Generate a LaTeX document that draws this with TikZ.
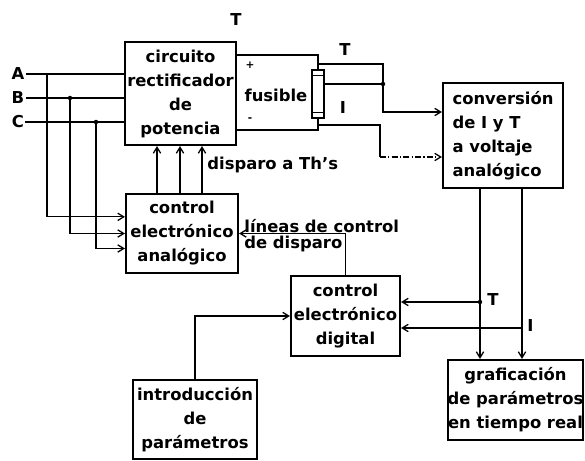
\documentclass[tikz,border=0pt]{standalone}
\usepackage{fontspec}
\setmainfont{DejaVu Sans}
\usetikzlibrary{arrows.meta,positioning,calc}

\begin{document}
\begin{tikzpicture}[
    x=0.3mm,y=-0.3mm,
    font=\fontsize{14}{20.5}\selectfont\bfseries,
    block/.style={rectangle,draw,line width=1.8pt,align=center,inner sep=1pt},
    wire/.style={line width=1.1pt},
    arrow/.style={wire,-{Straight Barb[length=1.8mm,width=2.2mm]}},
    dashwire/.style={arrow,dash pattern=on 5pt off 2pt on 1pt off 2pt},
    dot/.style={circle,fill,inner sep=0pt,minimum size=3.8pt},
    lbl/.style={inner sep=1pt}
]
\useasboundingbox (0,0) rectangle (585,461);

\node[block,minimum width=33.3mm,minimum height=30.9mm] (rect) at (180.5,93.5) {circuito\\rectificador\\de\\potencia};
\node[block,minimum width=33.6mm,minimum height=23.7mm] (analog) at (182,233.5) {control\\electrónico\\analógico};
\node[block,minimum width=36mm,minimum height=31.5mm,align=left] (conv) at (503,135.5) {conversión\\de I y T\\a voltaje\\analógico};
\node[block,minimum width=32.7mm,minimum height=24mm] (digital) at (345.5,316) {control\\electrónico\\digital};
\node[block,minimum width=37.2mm,minimum height=23.7mm] (intro) at (195,419.5) {introducción\\de\\parámetros};
\node[block,minimum width=40.5mm,minimum height=24mm,inner sep=0pt] (graf) at (515.5,400) {graficación\\de parámetros\\en tiempo real};
\node[draw,line width=1.2pt,minimum width=3.6mm,minimum height=14.4mm,inner sep=0pt] (fuse) at (318,94) {};
\draw[wire] ([yshift=-1.8mm]fuse.north west) -- ([yshift=-1.8mm]fuse.north east);
\draw[wire] ([yshift=1.8mm]fuse.south west) -- ([yshift=1.8mm]fuse.south east);

\node[lbl] (A) at (18,74) {A};
\node[lbl] (B) at (18,98) {B};
\node[lbl] (C) at (18,122) {C};
\draw[wire] (A.east) -- (A.east -| rect.west);
\draw[wire] (B.east) -- (B.east -| rect.west);
\draw[wire] (C.east) -- (C.east -| rect.west);
\coordinate (jA) at (47,74);
\coordinate (jB) at (70,98);
\coordinate (jC) at (96,122);
\draw[arrow] (jA) |- ([yshift=5mm]analog.west);
\draw[arrow] (jB) |- (analog.west);
\draw[arrow] (jC) |- ([yshift=-4.5mm]analog.west);
\node[dot] (dB) at (jB) {};
\node[dot] (dC) at (jC) {};

\foreach \xx in {157,180,202}
  \draw[arrow] (analog.north -| \xx,0) -- (rect.south -| \xx,0);
\node[lbl,anchor=west] (disp) at (206,165) {disparo a Th's};
\node[lbl] (ttop) at (236,20) {T};

\draw[wire] (rect.east |- 0,55) -| (fuse.north);
\draw[wire] (rect.east |- 0,130) -| (fuse.south);
\node[lbl,font=\fontsize{9}{10}\selectfont\bfseries] (plus) at (250,65) {+};
\node[lbl,font=\fontsize{9}{10}\selectfont\bfseries] (minus) at (250,120) {-};
\node[lbl] (fus) at (276,95) {fusible};

\coordinate (tapT) at (318,64);
\coordinate (bendT) at (383,112);
\draw[arrow] (tapT) -| (bendT) -- (bendT -| conv.west);
\draw[wire] (fuse.east |- 0,84) -- (bendT |- 0,84);
\node[dot] (dT) at (bendT |- 0,84) {};
\coordinate (tapI) at (318,125);
\coordinate (bendI) at (380,157);
\draw[wire] (tapI) -| (bendI);
\draw[dashwire] (bendI) -- (bendI -| conv.west);
\node[lbl] (lT) at (345,50) {T};
\node[lbl] (lI) at (343,108) {I};

\draw[arrow] (conv.south -| 480,0) -- (graf.north -| 480,0);
\draw[arrow] (conv.south -| 522,0) -- (graf.north -| 522,0);
\coordinate (sT) at (480,302);
\coordinate (sI) at (522,328);
\draw[arrow] (sT) -- (sT -| digital.east);
\draw[arrow] (sI) -- (sI -| digital.east);
\node[dot] (dsT) at (sT) {};
\node[lbl,anchor=west] (mT) at (486,300) {T};
\node[lbl,anchor=west] (mI) at (526,326) {I};

\draw[arrow] (digital.north) |- (analog.east);
\node[lbl,anchor=south west] (lin1) at (243,234) {líneas de control};
\node[lbl,anchor=north west] (lin2) at (243,235) {de disparo};

\draw[arrow] (intro.north) |- (digital.west);
\end{tikzpicture}
\end{document}
